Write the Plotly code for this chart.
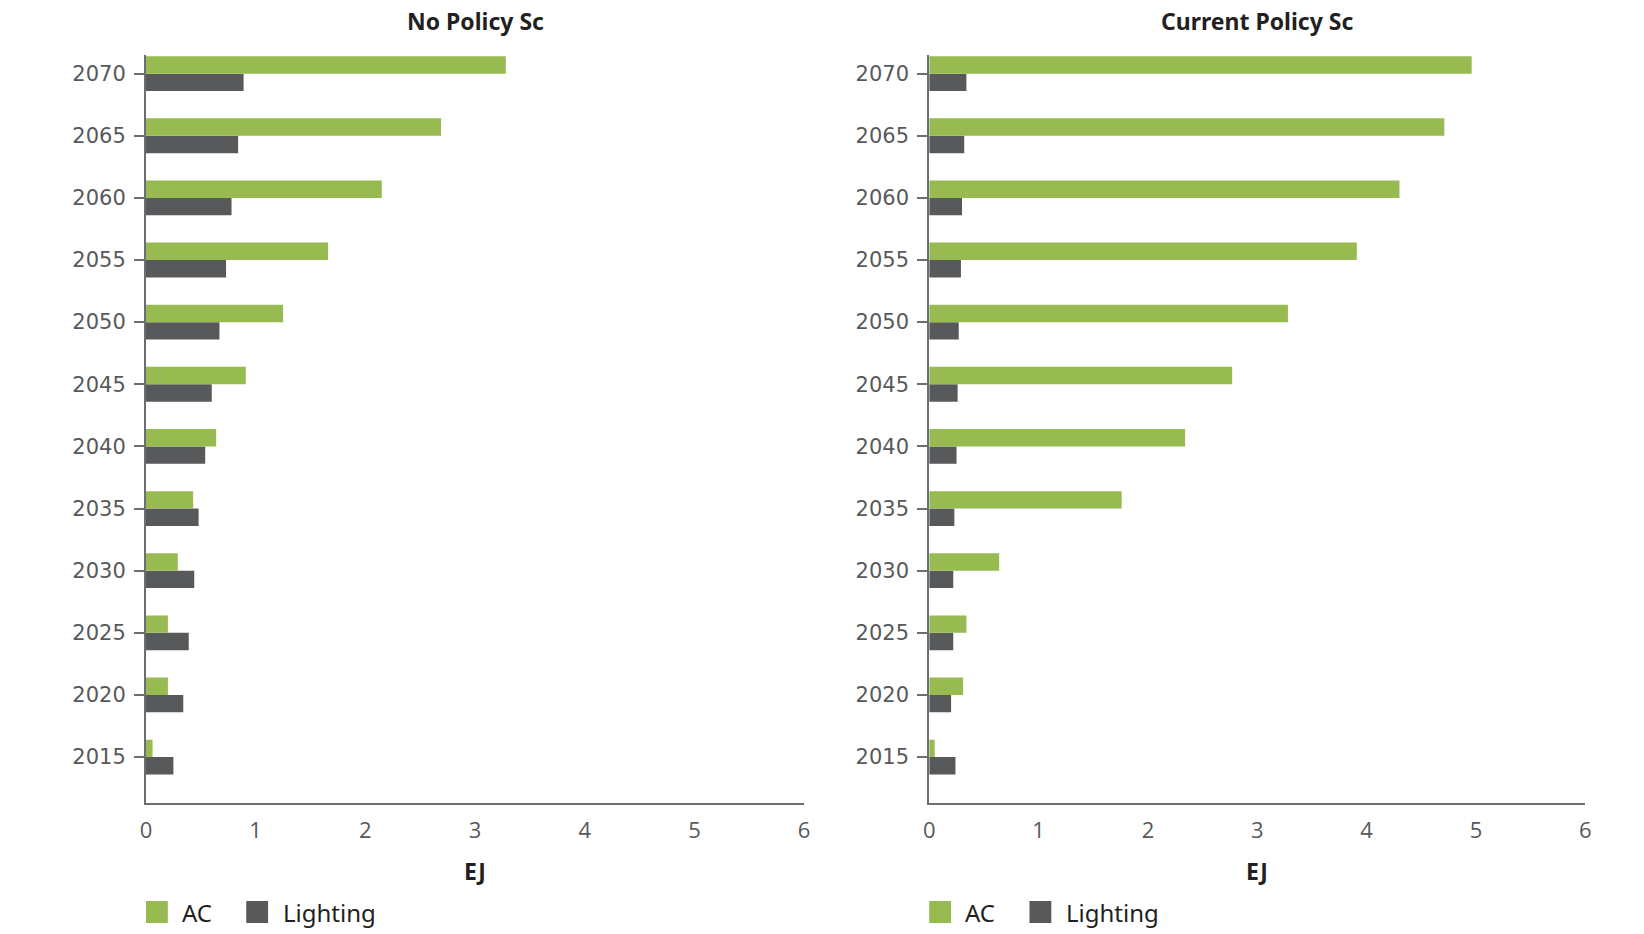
import plotly.graph_objects as go

years = ["2015", "2020", "2025", "2030", "2035", "2040", "2045", "2050", "2055", "2060", "2065", "2070"]

no_policy_ac = [0.06, 0.20, 0.20, 0.29, 0.43, 0.64, 0.91, 1.25, 1.66, 2.15, 2.69, 3.28]
no_policy_lighting = [0.25, 0.34, 0.39, 0.44, 0.48, 0.54, 0.60, 0.67, 0.73, 0.78, 0.84, 0.89]

current_policy_ac = [0.05, 0.31, 0.34, 0.64, 1.76, 2.34, 2.77, 3.28, 3.91, 4.30, 4.71, 4.96]
current_policy_lighting = [0.24, 0.20, 0.22, 0.22, 0.23, 0.25, 0.26, 0.27, 0.29, 0.30, 0.32, 0.34]

panel_titles = ["No Policy Sc", "Current Policy Sc"]
series_names = ["AC", "Lighting"]
x_title = "EJ"

GREEN = "#97BA51"
DARK = "#58595B"
AXIS = "#6D6E71"
TEXT = "#58595B"
BLACK = "#231F20"

W, H = 1644, 934


def px_x(x):
    return x / W


def px_y(y):
    return 1 - y / H


fig = go.Figure()

panels = [
    (no_policy_ac, no_policy_lighting, "x", "y"),
    (current_policy_ac, current_policy_lighting, "x2", "y2"),
]
for ac, light, xa, ya in panels:
    fig.add_trace(go.Bar(y=years, x=light, orientation="h", name=series_names[1],
                         marker=dict(color=DARK, line=dict(width=0)), xaxis=xa, yaxis=ya,
                         showlegend=False))
    fig.add_trace(go.Bar(y=years, x=ac, orientation="h", name=series_names[0],
                         marker=dict(color=GREEN, line=dict(width=0)), xaxis=xa, yaxis=ya,
                         showlegend=False))

LEFT_X0, RIGHT_X0 = 141, 930
left_dom = [px_x(LEFT_X0), px_x(804)]
right_dom = [px_x(RIGHT_X0), px_x(1591)]
y_dom = [px_y(803), px_y(55)]

xcommon = dict(range=[0, 6], dtick=1, tick0=0, showgrid=False, zeroline=False,
               showline=True, linecolor=AXIS, linewidth=2, ticks="",
               tickfont=dict(family="Open Sans", size=22, color=TEXT),
               ticklabelstandoff=7, fixedrange=True)
ycommon = dict(type="category", categoryorder="array", categoryarray=years,
               range=[-0.74, 11.30], showgrid=False, zeroline=False,
               showline=True, linecolor=AXIS, linewidth=2, ticks="outside",
               ticklen=10, tickwidth=2, tickcolor=AXIS,
               tickfont=dict(family="DejaVu Sans", size=21, color=TEXT),
               ticklabelstandoff=4, fixedrange=True)

fig.update_layout(
    width=W, height=H,
    margin=dict(l=0, r=0, t=0, b=0),
    paper_bgcolor="white", plot_bgcolor="white",
    barmode="group", bargap=0.44, bargroupgap=0,
    showlegend=False,
    xaxis=dict(domain=left_dom, anchor="y", **xcommon),
    yaxis=dict(domain=y_dom, anchor="x", **ycommon),
    xaxis2=dict(domain=right_dom, anchor="y2", **xcommon),
    yaxis2=dict(domain=y_dom, anchor="x2", **ycommon),
)

annotations = []
shapes = []
for i, (dom, x0px) in enumerate([(left_dom, LEFT_X0), (right_dom, RIGHT_X0)]):
    cx = (dom[0] + dom[1]) / 2
    annotations.append(dict(text="<b>%s</b>" % panel_titles[i], x=cx, y=px_y(21), xref="paper", yref="paper",
                            showarrow=False, xanchor="center", yanchor="middle",
                            font=dict(family="Noto Sans", size=23, color=BLACK)))
    annotations.append(dict(text="<b>%s</b>" % x_title, x=cx, y=px_y(871), xref="paper", yref="paper",
                            showarrow=False, xanchor="center", yanchor="middle",
                            font=dict(family="Noto Sans", size=23, color=BLACK)))
    # legend
    items = [(series_names[0], GREEN, 0, 34), (series_names[1], DARK, 101, 136)]
    for name, col, off, toff in items:
        shapes.append(dict(type="rect", xref="paper", yref="paper",
                           x0=px_x(x0px + off), x1=px_x(x0px + off + 22),
                           y0=px_y(923), y1=px_y(901), fillcolor=col, line=dict(width=0)))
        annotations.append(dict(text=name, x=px_x(x0px + toff), y=px_y(912), xref="paper", yref="paper",
                                showarrow=False, xanchor="left", yanchor="middle",
                                font=dict(family="Noto Sans", size=24, color=BLACK)))

fig.update_layout(annotations=annotations, shapes=shapes)

fig.write_html("out.html", config={"displayModeBar": False},
               post_script="document.body.style.margin='0';document.body.style.overflow='hidden';")
